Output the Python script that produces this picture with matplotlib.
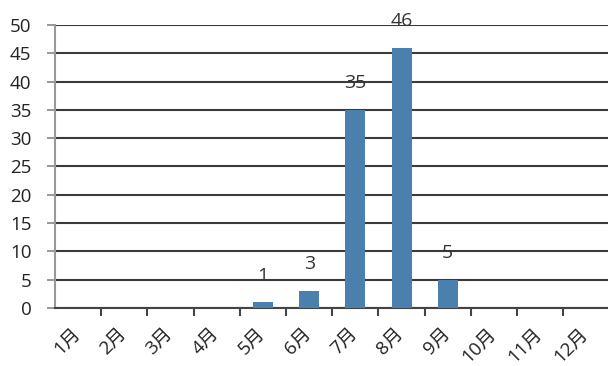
import matplotlib
matplotlib.use("Agg")
import matplotlib.pyplot as plt
import matplotlib.transforms as mtransforms
import numpy as np

plt.rcParams['font.family'] = ['Open Sans', 'Noto Sans CJK JP', 'DejaVu Sans']

months = ["1月", "2月", "3月", "4月", "5月", "6月", "7月", "8月", "9月", "10月", "11月", "12月"]
counts = [0, 0, 0, 0, 1, 3, 35, 46, 5, 0, 0, 0]

fig = plt.figure(figsize=(6.08, 3.66), dpi=100)
ax = fig.add_axes([0.0905, 0.1585, 0.912, 0.7732])

x = np.arange(len(months))
ax.bar(x, counts, width=0.43, color="#4a7fae", zorder=3)

for xi, v in zip(x, counts):
    if v > 0:
        ax.text(xi, v + 4.7, str(v), ha="center", va="center",
                fontsize=14, color="#333333", zorder=4)

ax.set_ylim(0, 50)
ax.set_xlim(-0.5, len(months) - 0.5)
ax.set_yticks(np.arange(0, 51, 5))
ax.yaxis.grid(True, color="#3a3a3a", linewidth=1.5, zorder=1)
ax.set_axisbelow(True)

ax.set_xticks(x)
ax.set_xticklabels(months, rotation=45, ha="right", va="top",
                   rotation_mode="anchor", fontsize=13.5, color="#222222")
ax.tick_params(axis="x", length=0, pad=12)
shift = mtransforms.ScaledTranslation(-7 / 100, 0, fig.dpi_scale_trans)
for lbl in ax.get_xticklabels():
    lbl.set_transform(lbl.get_transform() + shift)
ax.set_xticks(np.arange(0.5, len(months) - 0.5, 1), minor=True)
ax.tick_params(axis="x", which="minor", length=6, width=1.5, color="#444444")

ax.tick_params(axis="y", length=6, width=1.2, color="#888888",
               labelsize=13.5, labelcolor="#222222", pad=11)

for side in ("top", "right"):
    ax.spines[side].set_visible(False)
ax.spines["left"].set_color("#999999")
ax.spines["left"].set_linewidth(1.5)
ax.spines["bottom"].set_color("#444444")
ax.spines["bottom"].set_linewidth(1.5)

fig.savefig("out.png", dpi=100, facecolor="white")
